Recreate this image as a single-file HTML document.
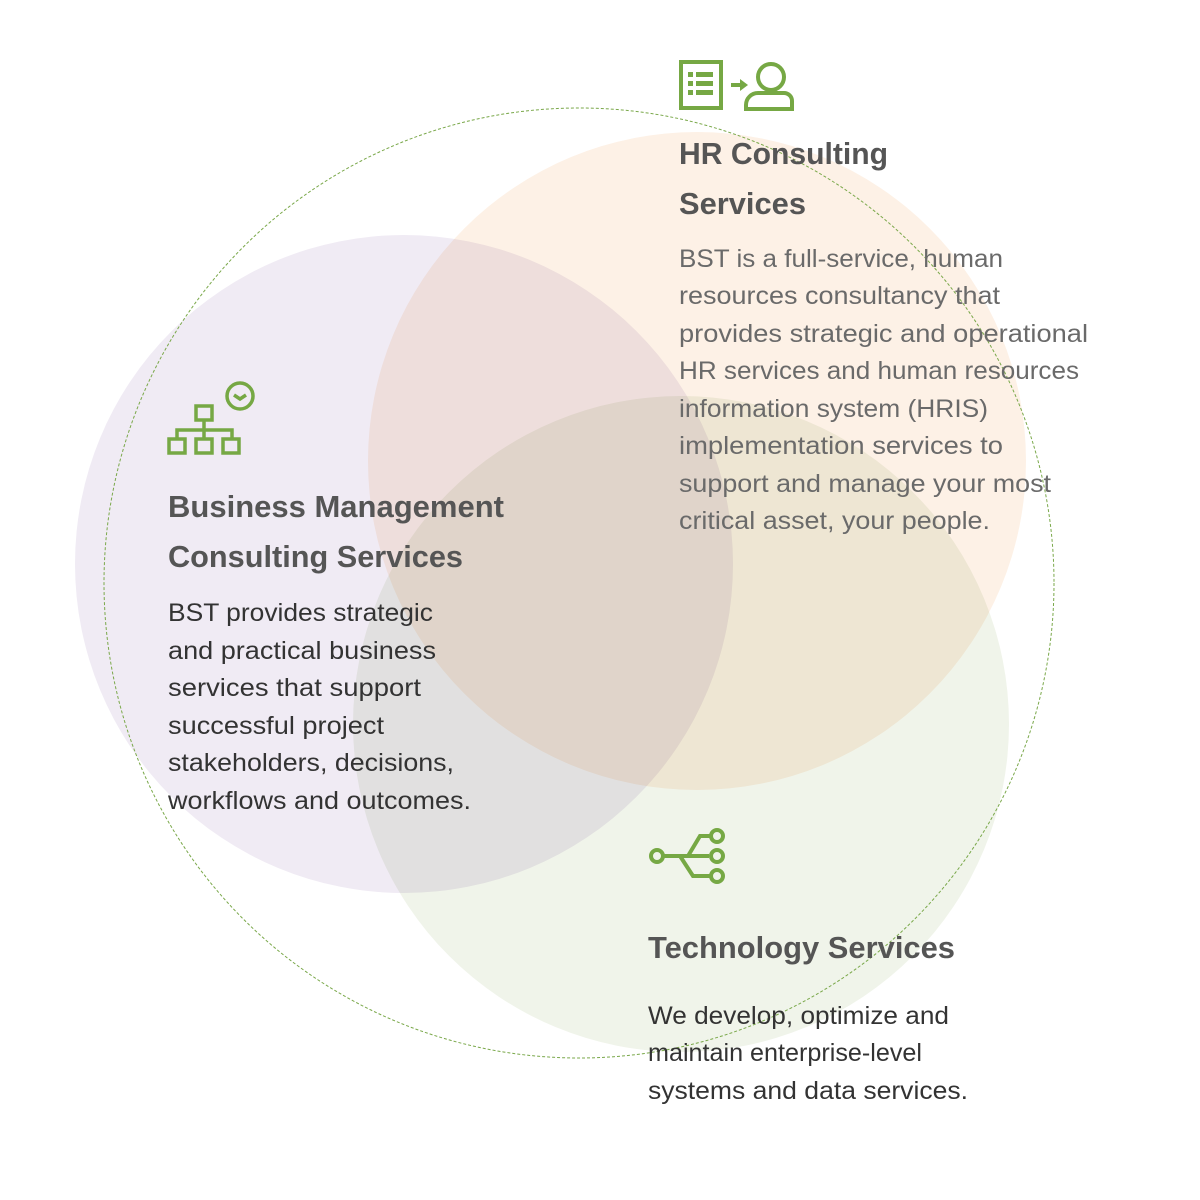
<!DOCTYPE html>
<html><head><meta charset="utf-8"><style>
html,body{margin:0;padding:0;background:#fff;width:1200px;height:1200px;overflow:hidden}
svg{display:block}
text{font-family:"Liberation Sans",sans-serif}
.h{font-weight:bold;font-size:31px;fill:#555}
.b{font-size:25px;fill:#333}
.g{font-size:25px;fill:#6a6a6a}
</style></head><body>
<svg width="1200" height="1200" viewBox="0 0 1200 1200" xmlns="http://www.w3.org/2000/svg">
<g style="isolation:isolate">
<circle cx="404" cy="564" r="329" fill="#f0ebf4" style="mix-blend-mode:multiply"/>
<circle cx="697" cy="461" r="329" fill="#fdf1e6" style="mix-blend-mode:multiply"/>
<circle cx="681" cy="724" r="328" fill="#f0f4ea" style="mix-blend-mode:multiply"/>
</g>
<circle cx="579" cy="583" r="475" fill="none" stroke="#7aa84a" stroke-width="1" stroke-dasharray="3,2"/>

<!-- HR icon -->
<g fill="none" stroke="#76a844" stroke-width="4">
<rect x="681" y="62" width="40" height="46"/>
<path d="M731 85h12"/>
<circle cx="771" cy="77" r="13"/>
<path d="M746 109v-4a12 12 0 0 1 12-12h26a8 8 0 0 1 8 8v8z"/>
</g>
<g fill="#76a844">
<rect x="688" y="72" width="5" height="5"/><rect x="696" y="72" width="17" height="5"/>
<rect x="688" y="81" width="5" height="5"/><rect x="696" y="81" width="17" height="5"/>
<rect x="688" y="90" width="5" height="5"/><rect x="696" y="90" width="17" height="5"/>
<path d="M740 79l8 6-8 6z"/>
</g>

<!-- Business icon -->
<g fill="none" stroke="#76a844" stroke-width="3.5">
<rect x="196" y="406" width="16" height="14"/>
<path d="M204 420v20M177 439v-9h55v9"/>
<rect x="169" y="439" width="16" height="14"/>
<rect x="196" y="439" width="16" height="14"/>
<rect x="223" y="439" width="16" height="14"/>
<circle cx="240" cy="396" r="13"/>
<path d="M234 395l6 4 6-4"/>
</g>

<!-- Tech icon -->
<g fill="none" stroke="#76a844" stroke-width="4">
<circle cx="657" cy="856" r="6"/>
<path d="M663 856h46M688 856l12-20h11M680 856l13 20h18"/>
<circle cx="717" cy="836" r="6"/>
<circle cx="717" cy="856" r="6"/>
<circle cx="717" cy="876" r="6"/>
</g>

<text class="h" x="679" y="164" textLength="209" lengthAdjust="spacingAndGlyphs">HR Consulting</text>
<text class="h" x="679" y="214" textLength="127" lengthAdjust="spacingAndGlyphs">Services</text>
<g class="g">
<text x="679" y="267" textLength="324" lengthAdjust="spacingAndGlyphs">BST is a full-service, human</text>
<text x="679" y="304" textLength="321" lengthAdjust="spacingAndGlyphs">resources consultancy that</text>
<text x="679" y="342" textLength="409" lengthAdjust="spacingAndGlyphs">provides strategic and operational</text>
<text x="679" y="379" textLength="400" lengthAdjust="spacingAndGlyphs">HR services and human resources</text>
<text x="679" y="417" textLength="309" lengthAdjust="spacingAndGlyphs">information system (HRIS)</text>
<text x="679" y="454" textLength="324" lengthAdjust="spacingAndGlyphs">implementation services to</text>
<text x="679" y="492" textLength="372" lengthAdjust="spacingAndGlyphs">support and manage your most</text>
<text x="679" y="529" textLength="311" lengthAdjust="spacingAndGlyphs">critical asset, your people.</text>
</g>

<text class="h" x="168" y="517" textLength="336" lengthAdjust="spacingAndGlyphs">Business Management</text>
<text class="h" x="168" y="567" textLength="295" lengthAdjust="spacingAndGlyphs">Consulting Services</text>
<g class="b">
<text x="168" y="621" textLength="265" lengthAdjust="spacingAndGlyphs">BST provides strategic</text>
<text x="168" y="659" textLength="268" lengthAdjust="spacingAndGlyphs">and practical business</text>
<text x="168" y="696" textLength="253" lengthAdjust="spacingAndGlyphs">services that support</text>
<text x="168" y="734" textLength="216" lengthAdjust="spacingAndGlyphs">successful project</text>
<text x="168" y="771" textLength="286" lengthAdjust="spacingAndGlyphs">stakeholders, decisions,</text>
<text x="168" y="809" textLength="303" lengthAdjust="spacingAndGlyphs">workflows and outcomes.</text>
</g>

<text class="h" x="648" y="958" textLength="307" lengthAdjust="spacingAndGlyphs">Technology Services</text>
<g class="b">
<text x="648" y="1024" textLength="301" lengthAdjust="spacingAndGlyphs">We develop, optimize and</text>
<text x="648" y="1061" textLength="274" lengthAdjust="spacingAndGlyphs">maintain enterprise-level</text>
<text x="648" y="1099" textLength="320" lengthAdjust="spacingAndGlyphs">systems and data services.</text>
</g>
</svg>
</body></html>
